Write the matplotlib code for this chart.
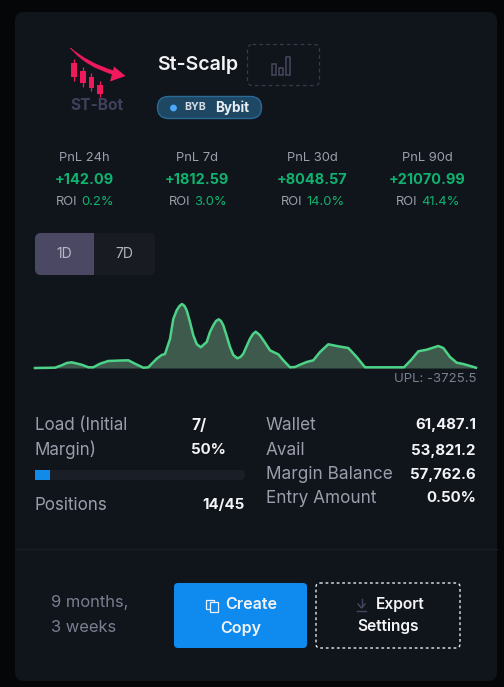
import matplotlib
matplotlib.use("Agg")
import matplotlib.pyplot as plt
from matplotlib.patches import FancyBboxPatch, Rectangle, Polygon, Circle
from matplotlib.path import Path
from matplotlib.patches import PathPatch

plt.rcParams['font.family'] = ['Inter', 'DejaVu Sans']

# pnl curve, x is position along the time axis, y is height above zero
chart_x = [0, 20, 26.7, 31.7, 36.7, 41.7, 46.7, 53.3, 58.3, 65, 73.3, 83.3, 93.3, 100, 108.3, 113.3,
           121.7, 126.7, 130, 135, 138.3, 141.7, 144.5, 147, 149.5, 151.7, 155, 158.3, 161.7, 165.7,
           171.7, 175, 178.3, 181, 183.7, 186, 188.3, 191.7, 195, 198.3, 202.3, 205.5, 208.3, 211.7,
           215, 218, 220.7, 225, 230, 235, 238.3, 243.3, 248.3, 255, 260, 265, 271.7, 278.3, 285,
           293.3, 303.3, 313.3, 321.7, 330, 369, 376.7, 383.3, 391.7, 403.3, 408.3, 415, 421.7,
           428.3, 441]
chart_y = [0, 0.3, 2.7, 5, 5.7, 4.5, 3.3, 0.7, 0.7, 4.3, 7, 7.4, 7.7, 4.3, 0.3, 0.7,
           9.3, 13, 14, 29, 49, 57.7, 62, 64, 62, 57.7, 46, 32.7, 24, 20.7,
           26, 36, 42.7, 47, 48.7, 47, 42.7, 32, 21, 13, 9.7, 11, 14.3, 22,
           29.3, 34, 36.3, 32.7, 25.3, 17.7, 16, 13.7, 7.7, 0.7, 1, 3.3, 6, 7.7, 16,
           23.7, 21.7, 20, 11, 0.7, 0.7, 8.7, 16.7, 18.3, 22, 20, 11, 5.3,
           4, 0.3]

stat_labels = ["PnL 24h", "PnL 7d", "PnL 30d", "PnL 90d"]
stat_pnl = ["+142.09", "+1812.59", "+8048.57", "+21070.99"]
stat_roi = ["0.2%", "3.0%", "14.0%", "41.4%"]
stat_centers = [85, 198, 313, 428]

detail_labels = ["Wallet", "Avail", "Margin Balance", "Entry Amount"]
detail_values = ["61,487.1", "53,821.2", "57,762.6", "0.50%"]
detail_rows = [425, 450, 474, 498]

load_percent = 7
upl_text = "UPL: -3725.5"

CARD = "#10151c"
GREEN = "#10b26f"
LINE = "#4cd387"
MUTED = "#9c9dab"
DIM = "#7b7e90"
WHITE = "#f4f4f6"
ICON = "#47465e"
PINK = "#f0195c"

fig = plt.figure(figsize=(5.04, 6.87), dpi=100, facecolor="#050608")
ax = fig.add_axes([0, 0, 1, 1])
ax.set_xlim(0, 504)
ax.set_ylim(687, 0)
ax.axis("off")


def box(x0, y0, x1, y1, r=4, **kw):
    p = FancyBboxPatch((x0 + r, y0 + r), x1 - x0 - 2 * r, y1 - y0 - 2 * r,
                       boxstyle=f"round,pad={r},rounding_size={r}", **kw)
    ax.add_patch(p)
    return p


def label(x, y, s, px=15, color=MUTED, weight="normal", ha="left"):
    return ax.text(x, y, s, fontsize=px * 0.72, color=color, fontweight=weight, ha=ha, va="center")


# card
box(15, 12, 497, 681, r=9, fc=CARD, ec="none")

# logo
candle_x = [73.7, 82.7, 91.3, 100]
candle_body = [(63.3, 76.7), (70.7, 83.3), (77.3, 87.7), (85, 94)]
candle_wick = [(59.3, 80.7), (66.7, 86.7), (73.3, 91), (81, 97.3)]
for cx, b, w in zip(candle_x, candle_body, candle_wick):
    ax.plot([cx, cx], w, color=PINK, lw=0.9, solid_capstyle="butt")
    ax.add_patch(Rectangle((cx - 2.8, b[0]), 5.6, b[1] - b[0], fc=PINK, ec="none"))
# swoosh tapers from a point at the top left into the arrow head
ax.add_patch(PathPatch(Path([(70.5, 48), (86, 67), (115, 75), (114, 71), (88, 63), (70.5, 48)],
                            [Path.MOVETO, Path.CURVE3, Path.CURVE3, Path.LINETO, Path.CURVE3, Path.CURVE3]),
                       fc=PINK, ec=PINK, lw=0.4))
ax.add_patch(Polygon([(114, 66.5), (125.5, 76), (110, 81.5)], fc=PINK, ec="none"))
label(97, 106, "ST-Bot", px=15.5, color="#41405a", weight="bold", ha="center")

# title and badge
label(157, 65.5, "St-Scalp", px=19.5, color=WHITE, weight="semibold")
box(247.5, 44.5, 319.5, 85.5, r=5, fc="none", ec="#383949", lw=0.9, ls=(0, (3, 2.5)))
for x0, y0, w, h in [(272, 63.5, 4, 11), (279, 67.5, 4.3, 7), (286, 57, 4.3, 17.5)]:
    ax.add_patch(Rectangle((x0, y0), w, h, fc="none", ec=ICON, lw=1.1))
box(157.5, 96.5, 261.5, 118.5, r=11, fc="#1d4763", ec="#2a6a95", lw=1)
ax.add_patch(Circle((173.5, 108), 3.4, fc="#4aa8ff", ec="none"))
label(184, 106.5, "BYB", px=10.5, color="#d5dce4", weight="bold")
label(215, 108, "Bybit", px=13.5, color="#e8eef3", weight="bold")

# stats row
fig.canvas.draw()
renderer = fig.canvas.get_renderer()
for cx, name, pnl, roi in zip(stat_centers, stat_labels, stat_pnl, stat_roi):
    label(cx - 1, 158, name, px=13, color=MUTED, ha="center")
    label(cx - 1, 180, pnl, px=14.5, color=GREEN, weight="bold", ha="center")
    a = label(0, 202, "ROI", px=13, color=MUTED)
    b = label(0, 202, roi, px=13, color=GREEN)
    w_a = a.get_window_extent(renderer).width + 4
    w_b = b.get_window_extent(renderer).width
    a.set_x(cx - (w_a + w_b) / 2)
    b.set_x(cx - (w_a + w_b) / 2 + w_a)

# 1D / 7D toggle
box(35, 233, 155, 275, r=6, fc="#181b22", ec="none")
tab = box(35, 233, 110, 275, r=6, fc="#4a4862", ec="none")
tab.set_clip_path(Rectangle((35, 233), 59, 42, transform=ax.transData))
label(64.5, 254.5, "1D", px=14, color="#b9b9c6", ha="center")
label(124, 254.5, "7D", px=14, color="#b4b5bf", ha="center")

# chart
chart = fig.add_axes([35 / 504, 1 - 368 / 687, 441 / 504, 75 / 687])
chart.set_xlim(0, 441)
chart.set_ylim(0, 75)
chart.axis("off")
chart.fill_between(chart_x, chart_y, 0, color="#3d5a4d", lw=0)
chart.plot(chart_x, chart_y, color=LINE, lw=1.8, solid_joinstyle="round", clip_on=False)
label(476, 378.5, upl_text, px=13.2, color=DIM, ha="right")

# load block
label(35, 425, "Load (Initial", px=17)
label(35, 450, "Margin)", px=17)
label(191, 425, "7/", px=15.5, color=WHITE, weight="bold")
label(226, 450, "50%", px=15, color=WHITE, weight="bold", ha="right")
box(35, 470, 245, 480, r=5, fc="#1a1e27", ec="none")
load_bar = fig.add_axes([35 / 504, 1 - 480 / 687, 210 / 504, 10 / 687])
load_bar.set_xlim(0, 100)
load_bar.set_ylim(0, 1)
load_bar.axis("off")
load_bar.barh(0.5, load_percent, height=1, color="#118ae9")
label(35, 505, "Positions", px=17)
label(245, 505, "14/45", px=15, color=WHITE, weight="bold", ha="right")

# details
for name, value, y in zip(detail_labels, detail_values, detail_rows):
    label(266, y + 0.5, name, px=17.2)
    label(476, y + 0.5, value, px=15, color=WHITE, weight="bold", ha="right")

# footer
ax.plot([15, 497], [549, 549], color="#1a1e27", lw=1)
label(51, 603, "9 months,", px=16.5, color=DIM)
label(51, 628, "3 weeks", px=16.5, color=DIM)

box(174, 583, 307, 648, r=4, fc="#0f8bef", ec="none")
ax.add_patch(Rectangle((206, 600), 8, 9, fc="none", ec="#e8f3fd", lw=0.9))
ax.add_patch(Rectangle((210, 602), 8, 9.5, fc="#0f8bef", ec="#e8f3fd", lw=0.9))
label(225.5, 604.5, "Create", px=16, color=WHITE, weight="semibold")
label(240.5, 628, "Copy", px=16, color=WHITE, weight="semibold", ha="center")

box(316, 583, 460, 648, r=4, fc="none", ec="#e8e8ea", lw=1, ls=(0, (2, 2)))
ax.plot([361.5, 361.5], [599, 607], color=ICON, lw=1)
ax.plot([358, 361.5, 365], [604, 608, 604], color=ICON, lw=1)
ax.plot([357, 366], [611, 611], color=ICON, lw=1)
label(375.5, 604.5, "Export", px=15.5, color=WHITE, weight="semibold")
label(388, 626.5, "Settings", px=15.5, color=WHITE, weight="semibold", ha="center")

fig.savefig("out.png", dpi=100, facecolor=fig.get_facecolor())
